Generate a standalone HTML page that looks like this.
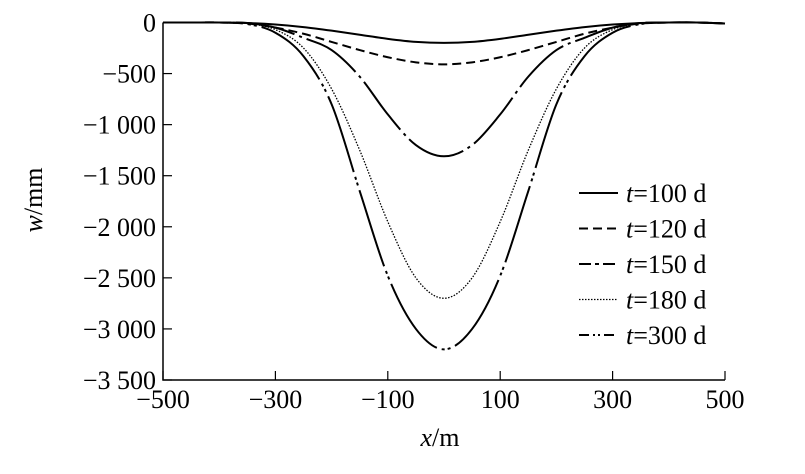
<!DOCTYPE html>
<html><head><meta charset="utf-8"><style>
body{margin:0;background:#fff}
svg text{font-family:"Liberation Serif",serif;font-size:26px;fill:#000}
</style></head><body>
<svg id="c" width="805" height="469" xmlns="http://www.w3.org/2000/svg"></svg>
<script>
const xs=[-500,-450,-400,-350,-300,-250,-200,-150,-100,-50,0,50,100,150,200,250,300,350,400,450,500];
const w100=[0,0,0,-5,-20,-45,-80,-120,-160,-190,-200,-190,-160,-120,-80,-45,-20,-5,0,0,-10];
const w120=[0,0,0,-10,-50,-110,-190,-270,-340,-390,-410,-390,-340,-270,-190,-110,-50,-10,0,0,-10];
const w150=[0,0,0,-5,-50,-150,-270,-530,-900,-1200,-1310,-1200,-900,-530,-270,-150,-50,-5,0,0,-10];
const w180=[0,0,0,-10,-70,-250,-650,-1250,-1950,-2500,-2700,-2500,-1950,-1250,-650,-250,-70,-10,0,0,-10];
const w300=[0,0,0,-15,-100,-330,-800,-1650,-2480,-3000,-3200,-3000,-2480,-1650,-800,-330,-100,-15,0,0,-10];
const xTicks=[-500,-300,-100,100,300,500];
const xTickLabels=["\u2212500","\u2212300","\u2212100","100","300","500"];
const yTicks=[0,-500,-1000,-1500,-2000,-2500,-3000,-3500];
const yTickLabels=["0","\u2212500","\u22121 000","\u22121 500","\u22122 000","\u22122 500","\u22123 000","\u22123 500"];
const seriesNames=["t=100 d","t=120 d","t=150 d","t=180 d","t=300 d"];
const NS="http://www.w3.org/2000/svg",svg=document.getElementById('c');
const X=v=>163+(v+500)*0.562, Y=v=>22.5-v*51.07/500;
function el(t,a,p){const e=document.createElementNS(NS,t);for(const k in a)e.setAttribute(k,a[k]);(p||svg).appendChild(e);return e;}
const ax=el('path',{d:`M${X(-500)},${Y(0)}V${Y(-3500)}H${X(500)}`,fill:'none',stroke:'#000','stroke-width':1.5});


xTicks.forEach((t,i)=>{
 const l=el('line',{x1:X(t),x2:X(t),y1:Y(-3500),y2:Y(-3500)-9,stroke:'#000','stroke-width':1.2});
 
 
 const tx=el('text',{x:X(t),y:Y(-3500)+28,'text-anchor':'middle'});tx.textContent=xTickLabels[i];
 
 
});
yTicks.forEach((t,i)=>{
 const l=el('line',{x1:X(-500),x2:X(-500)+9,y1:Y(t),y2:Y(t),stroke:'#000','stroke-width':1.2});
 
 
 const tx=el('text',{x:156,y:Y(t)+9,'text-anchor':'end'});tx.textContent=yTickLabels[i];
 
 
});
const styles=["","9,5","60,5,3,5","1.5,1.5","80,5,3,3,3,5"];
const lstyles=["","9,5","12,4,4,4","1.5,1.5","10,4,2,3,2,4"];
const widths=[2,2,2,1.3,2];
[w100,w120,w150,w180,w300].forEach((s,i)=>{
 const P=xs.map((x,j)=>[X(x),Y(s[j])]);
 let d='M'+P[0];
 for(let j=0;j<P.length-1;j++){const p0=P[j-1]||P[j],p1=P[j],p2=P[j+1],p3=P[j+2]||P[j+1];
  d+=`C${p1[0]+(p2[0]-p0[0])/6},${p1[1]+(p2[1]-p0[1])/6} ${p2[0]-(p3[0]-p1[0])/6},${p2[1]-(p3[1]-p1[1])/6} ${p2[0]},${p2[1]}`;}
 const p=el('path',{d,fill:'none',stroke:'#000','stroke-width':widths[i],'stroke-dasharray':styles[i]});
 
 
 const ly=193+i*35.5;
 const ll=el('line',{x1:579,x2:618,y1:ly,y2:ly,stroke:'#000','stroke-width':widths[i],'stroke-dasharray':lstyles[i]});
 
 
 const lt=el('text',{x:626,y:ly+9});
 lt.innerHTML='<tspan font-style="italic">t</tspan>='+seriesNames[i].slice(2);
 
 
});
const xt=el('text',{x:440,y:446,'text-anchor':'middle'});xt.innerHTML='<tspan font-style="italic">x</tspan>/m';


const yt=el('text',{x:0,y:0,'text-anchor':'middle',transform:'translate(42,200) rotate(-90)'});yt.innerHTML='<tspan font-style="italic">w</tspan>/mm';


</script>
</body></html>
